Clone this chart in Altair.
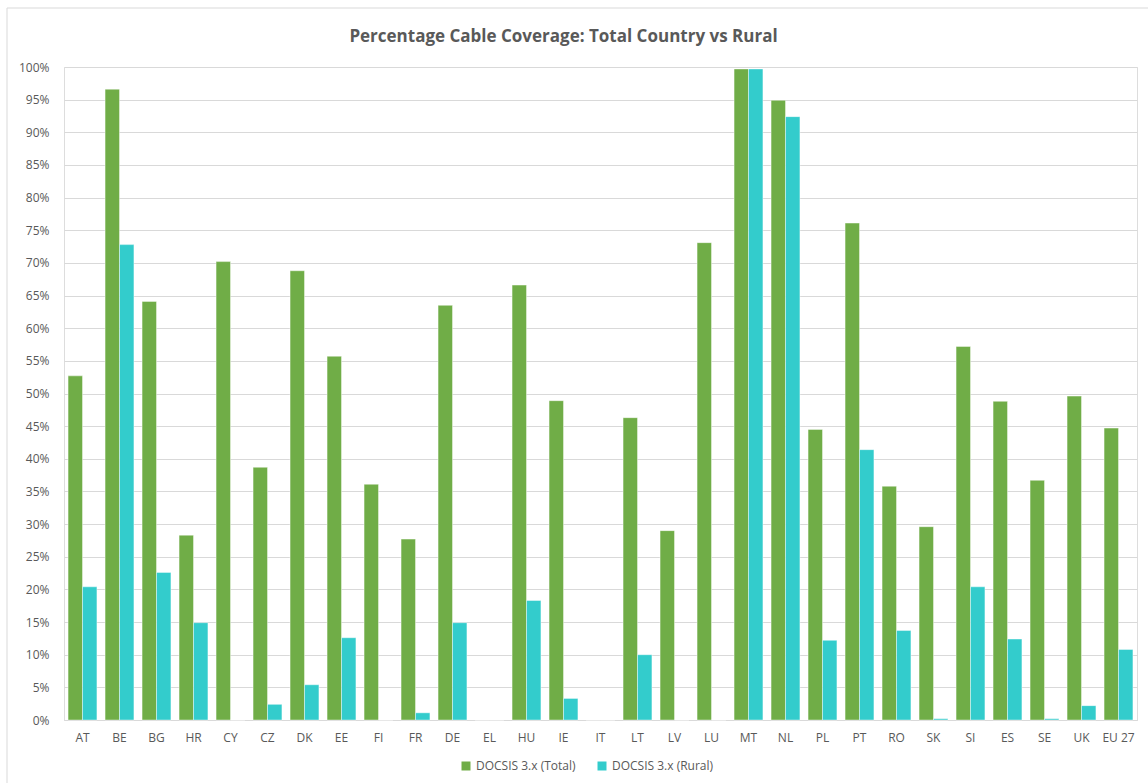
import altair as alt
import pandas as pd

# Cable (DOCSIS 3.x) coverage by country, percent of households
countries = ["AT", "BE", "BG", "HR", "CY", "CZ", "DK", "EE", "FI", "FR",
             "DE", "EL", "HU", "IE", "IT", "LT", "LV", "LU", "MT", "NL",
             "PL", "PT", "RO", "SK", "SI", "ES", "SE", "UK", "EU 27"]
total = [52.7, 96.6, 64.1, 28.3, 70.2, 38.7, 68.8, 55.7, 36.1, 27.7,
         63.5, 0.0, 66.6, 48.9, 0.0, 46.3, 29.0, 73.1, 99.7, 94.9,
         44.5, 76.1, 35.8, 29.6, 57.2, 48.8, 36.7, 49.6, 44.7]
rural = [20.4, 72.8, 22.6, 14.9, 0.0, 2.4, 5.4, 12.6, 0.0, 1.1,
         14.9, 0.0, 18.3, 3.3, 0.0, 10.0, 0.0, 0.0, 99.7, 92.4,
         12.2, 41.4, 13.7, 0.2, 20.4, 12.4, 0.2, 2.2, 10.8]
series_names = ["DOCSIS 3.x (Total)", "DOCSIS 3.x (Rural)"]
series_colors = ["#70AD47", "#33CCCC"]
y_ticks = list(range(0, 101, 5))

rows = []
for c, t, r in zip(countries, total, rural):
    rows.append({"country": c, "series": series_names[0], "value": t})
    rows.append({"country": c, "series": series_names[1], "value": r})
df = pd.DataFrame(rows)

FONT = "Open Sans"
GREY = "#595959"
LINE = "#D9D9D9"

bars = alt.Chart(df).mark_bar(
    stroke="white", strokeWidth=0.6, strokeOpacity=0.7
).encode(
    x=alt.X(
        "country:N", sort=countries,
        scale=alt.Scale(paddingInner=0.22, paddingOuter=0.11),
        axis=alt.Axis(title=None, labelAngle=0, ticks=False, grid=False,
                      domainColor=LINE, labelPadding=12, labelColor=GREY,
                      labelFont=FONT, labelFontSize=12),
    ),
    xOffset=alt.XOffset("series:N", sort=series_names),
    y=alt.Y(
        "value:Q",
        scale=alt.Scale(domain=[0, 100], nice=False),
        axis=alt.Axis(title=None, values=y_ticks, labelExpr="datum.value + '%'",
                      ticks=False, domain=False, gridColor=LINE,
                      labelPadding=15, labelColor=GREY, labelFont=FONT,
                      labelFontSize=12),
    ),
    color=alt.Color(
        "series:N", sort=series_names,
        scale=alt.Scale(domain=series_names, range=series_colors),
        legend=alt.Legend(title=None, orient="none", legendX=396, legendY=693,
                          direction="horizontal", symbolType="square",
                          symbolSize=81, symbolStrokeWidth=0, labelFont=FONT,
                          labelFontSize=12, labelColor=GREY, columnPadding=20,
                          labelOffset=4, padding=0),
    ),
)

# Chart-area frame along the left and top edges
frame_df = pd.DataFrame({"k": [0]})
left_edge = alt.Chart(frame_df).mark_rule(color=LINE, strokeWidth=1).encode(
    x=alt.value(-57), y=alt.value(-59), y2=alt.value(716)
)
top_edge = alt.Chart(frame_df).mark_rule(color=LINE, strokeWidth=1).encode(
    x=alt.value(-57), x2=alt.value(1084), y=alt.value(-59)
)

chart = alt.layer(bars, left_edge, top_edge).properties(
    width=1073,
    height=653,
    autosize=alt.AutoSizeParams(type="none"),
    padding={"left": 64, "top": 67, "right": 11, "bottom": 63},
    title=alt.Title("Percentage Cable Coverage: Total Country vs Rural",
                    font=FONT, fontSize=17, fontWeight="bold", color=GREY,
                    anchor="middle", dx=-37, offset=-38),
).configure_view(stroke=None).configure(background="white")

chart.save("out.html", embed_options={"renderer": "svg", "actions": False})
